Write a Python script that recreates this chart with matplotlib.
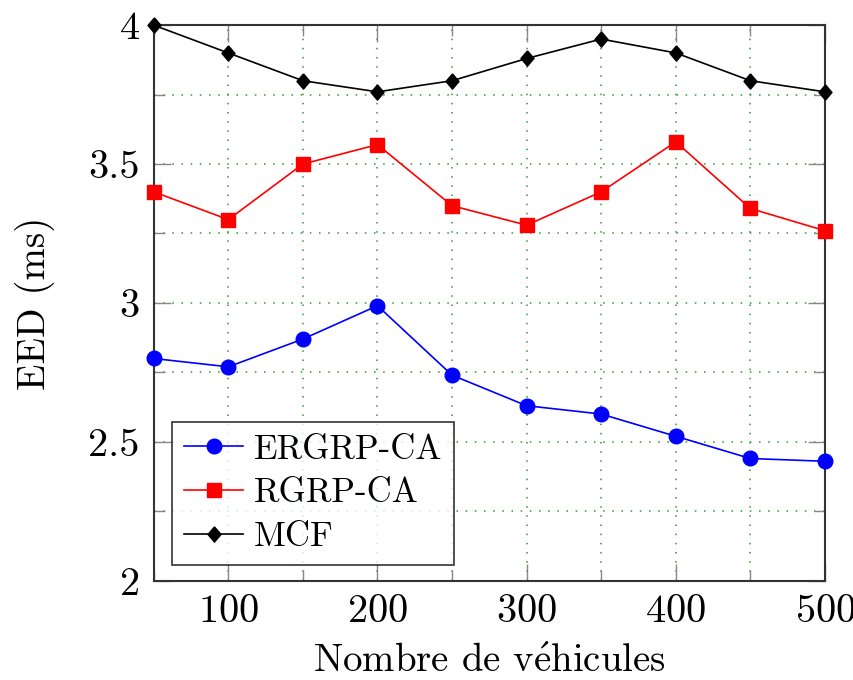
import matplotlib
matplotlib.use("Agg")
import matplotlib.pyplot as plt
from matplotlib.ticker import MultipleLocator

plt.rcParams['font.family'] = ['cmr10', 'DejaVu Serif']
plt.rcParams['mathtext.fontset'] = 'cm'
plt.rcParams['axes.formatter.use_mathtext'] = True

vehicles = [50, 100, 150, 200, 250, 300, 350, 400, 450, 500]
ergrp_ca = [2.80, 2.77, 2.87, 2.99, 2.74, 2.63, 2.60, 2.52, 2.44, 2.43]
rgrp_ca = [3.40, 3.30, 3.50, 3.57, 3.35, 3.28, 3.40, 3.58, 3.34, 3.26]
mcf = [4.00, 3.90, 3.80, 3.76, 3.80, 3.88, 3.95, 3.90, 3.80, 3.76]

diamond = [(0, 1), (0.85, 0), (0, -1), (-0.85, 0), (0, 1)]

fig = plt.figure(figsize=(8.54, 6.8), dpi=100)
ax = fig.add_axes([0.180, 0.146, 0.786, 0.817])

ax.plot(vehicles, ergrp_ca, color='blue', marker='o', markersize=10.5,
        linewidth=1.2, label='ERGRP-CA', clip_on=False, zorder=3)
ax.plot(vehicles, rgrp_ca, color='red', marker='s', markersize=10.5,
        linewidth=1.2, label='RGRP-CA', clip_on=False, zorder=3)
ax.plot(vehicles, mcf, color='black', marker=diamond, markersize=11,
        linewidth=1.2, label='MCF', clip_on=False, zorder=3)

ax.set_xlim(50, 500)
ax.set_ylim(2, 4)
ax.xaxis.set_major_locator(MultipleLocator(100))
ax.xaxis.set_minor_locator(MultipleLocator(50))
ax.yaxis.set_minor_locator(MultipleLocator(0.25))
ax.set_yticks([2, 2.5, 3, 3.5, 4])
ax.set_yticklabels(['2', '2.5', '3', '3.5', '4'])

ax.grid(True, which='both', color='#2e9a2e', linestyle=(0, (1, 5)), linewidth=1.1)
ax.set_axisbelow(True)

ax.tick_params(which='both', direction='in', top=True, right=True,
               color='#888888', labelsize=29, pad=10)
ax.tick_params(which='major', length=12, width=1)
ax.tick_params(which='minor', length=8, width=1)

for s in ax.spines.values():
    s.set_linewidth(1.5)
    s.set_color('#333333')

ax.set_xlabel(r'Nombre de v$\acute{\mathrm{e}}$hicules', fontsize=28, labelpad=10)
ax.set_ylabel('EED (ms)', fontsize=28, labelpad=24)

leg = ax.legend(loc='upper left', bbox_to_anchor=(0.027, 0.286), fontsize=25,
                frameon=True, fancybox=False, edgecolor='black',
                handlelength=1.7, handletextpad=0.3, labelspacing=0.35,
                borderpad=0.35, borderaxespad=0)
leg.get_frame().set_linewidth(1.2)
leg.set_zorder(5)

fig.savefig('out.png', dpi=100)
